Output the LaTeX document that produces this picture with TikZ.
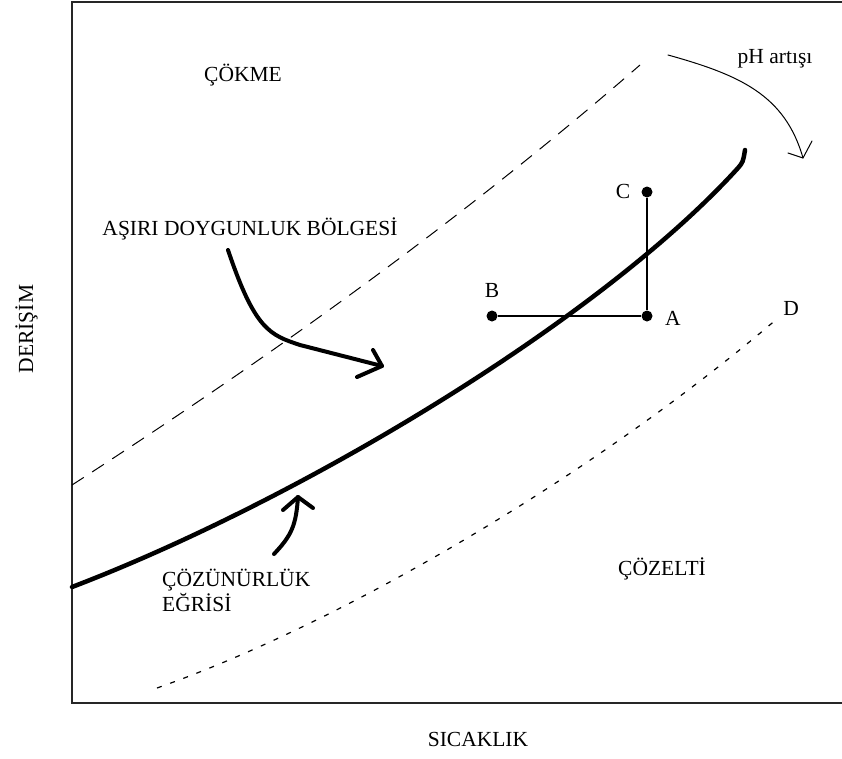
\documentclass[tikz,border=0pt]{standalone}
\usepackage{fontspec}
\setmainfont{Liberation Serif}
\begin{document}
\begin{tikzpicture}[x=1pt,y=-1pt,
  lbl/.style={inner sep=0pt, font=\fontsize{21.5}{25}\selectfont},
  frameline/.style={line width=2.2pt, draw=black!85},
  pointdot/.style={circle, fill=black, inner sep=0pt, minimum size=11pt},
  solcurve/.style={line width=4.5pt, line cap=round},
  supercurve/.style={line width=1pt, dash pattern=on 14pt off 10pt},
  undercurve/.style={line width=1.2pt, dash pattern=on 5pt off 9pt},
  pointer/.style={line width=4pt, line cap=round, line join=round},
  thinpointer/.style={line width=1pt, line cap=round, line join=round}]
\useasboundingbox (0,0) rectangle (842,758);

% axes frame
\draw[frameline] (842,2) -- (72,2) -- (72,703) -- (842,703);

% solubility curve
\draw[solcurve] (72,587) .. controls (300,500) and (600,320) .. (738,168)
  .. controls (743,162) .. (745,150);

% supersaturation limit
\draw[supercurve] (72,485) .. controls (250,370) and (450,230) .. (640,65);

% lower limit
\draw[undercurve] (157,688) .. controls (350,620) and (600,470) .. (778,318);

% process points
\node[pointdot] (A) at (647,316) {};
\node[pointdot] (B) at (492,316) {};
\node[pointdot] (C) at (647,192) {};
\draw[line width=1.2pt] (B) -- (A);
\draw[line width=1.2pt] (C) -- (A);

\node[lbl, anchor=base] (labA) at (673,325) {A};
\node[lbl, anchor=base] (labB) at (492,297) {B};
\node[lbl, anchor=base] (labC) at (623,198) {C};
\node[lbl, anchor=base] (labD) at (791,315) {D};

% region labels
\node[lbl, anchor=base] (cokme) at (243,81) {ÇÖKME};
\node[lbl, anchor=base] (asiri) at (250,235) {AŞIRI DOYGUNLUK BÖLGESİ};
\node[lbl, anchor=base west] (coz1) at (162,586) {ÇÖZÜNÜRLÜK};
\node[lbl, anchor=base west] (coz2) at (162,611) {EĞRİSİ};
\node[lbl, anchor=base] (cozelti) at (662,575) {ÇÖZELTİ};
\node[lbl, anchor=base] (ph) at (775,63) {pH artışı};

% axis titles
\node[lbl, anchor=base] (xt) at (478,746) {SICAKLIK};
\node[lbl, anchor=base, rotate=90] (yt) at (33,329) {DERİŞİM};

% pointer to the supersaturation region
\coordinate (p1s) at (228,250);
\coordinate (p1e) at (382,366);
\draw[pointer] (p1s) .. controls (255,330) and (270,335) .. (300,345) -- (p1e);
\draw[pointer] (373,350) -- (p1e) -- (357,377);

% pointer to the solubility curve
\coordinate (p2s) at (274,554);
\coordinate (p2e) at (298,497);
\draw[pointer] (p2s) .. controls (292,535) and (296,525) .. (p2e);
\draw[pointer] (283,510) -- (p2e) -- (313,508);

% pH direction
\coordinate (p3s) at (668,55);
\coordinate (p3e) at (803,158);
\draw[thinpointer] (p3s) .. controls (740,75) and (785,95) .. (p3e);
\draw[thinpointer] (788,153) -- (p3e) -- (812,141);
\end{tikzpicture}
\end{document}
